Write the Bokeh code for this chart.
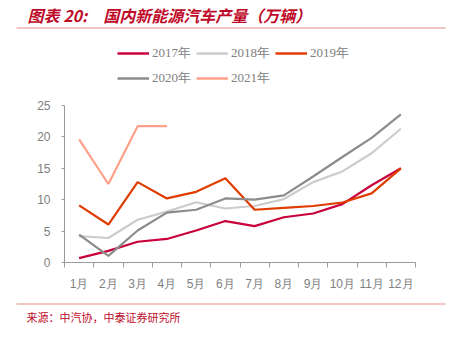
from bokeh.plotting import figure
from bokeh.layouts import column
from bokeh.models import Range1d, FixedTicker, Legend, LegendItem
from bokeh.core.properties import value
from bokeh.embed import file_html
from bokeh.resources import INLINE

months = ["1月", "2月", "3月", "4月", "5月", "6月", "7月", "8月", "9月", "10月", "11月", "12月"]
y2017 = [0.7, 1.85, 3.3, 3.75, 5.1, 6.6, 5.8, 7.2, 7.8, 9.3, 12.3, 15.0]
y2018 = [4.2, 3.9, 6.8, 8.1, 9.6, 8.6, 9.0, 10.1, 12.8, 14.5, 17.4, 21.3]
y2019 = [9.1, 6.05, 12.8, 10.2, 11.25, 13.4, 8.4, 8.7, 9.0, 9.55, 11.0, 15.0]
y2020 = [4.45, 1.05, 5.1, 7.95, 8.4, 10.2, 10.0, 10.7, 13.7, 16.8, 19.85, 23.6]
y2021 = [19.6, 12.5, 21.7, 21.7]
series_names = ["2017年", "2018年", "2019年", "2020年", "2021年"]
colors = ["#C8003C", "#CCCCCC", "#E03C00", "#8C8C8C", "#FFA08A"]
yticks = [0, 5, 10, 15, 20, 25]
title_text = "图表 20:\u3000国内新能源汽车产量（万辆）"
source_text = "来源：中汽协，中泰证券研究所"

W = 450
TOP_H, MAIN_H, BOT_H = 95, 200, 46
RED = "#BE0A28"
RULE = "#E38A8A"


def blank(h):
    # y measured downward from the top edge of this strip: y_data = h - y_px
    f = figure(width=W, height=h, output_backend="svg", toolbar_location=None,
               x_range=Range1d(0, W), y_range=Range1d(0, h),
               min_border=0, min_border_left=0, min_border_right=0,
               min_border_top=0, min_border_bottom=0, frame_align=False)
    f.axis.visible = False
    f.grid.visible = False
    f.outline_line_color = None
    f.background_fill_color = "white"
    f.border_fill_color = "white"
    return f


# ---- header: title, rule, legend
top = blank(TOP_H)
top.text(x=[27], y=[TOP_H - 14], text=[title_text], text_font=value("Noto Sans CJK SC"),
         text_font_size="16px", text_font_style="bold italic", text_color=RED,
         text_baseline="middle")
top.quad(left=[16], right=[445], bottom=[TOP_H - 28], top=[TOP_H - 27],
         fill_color=RULE, line_color=None)
dummies = [top.line(x=[-50, -40], y=[-50, -50], line_color=c, line_width=2.6) for c in colors]
order = [0, 3, 1, 4, 2]  # fill columns so rows read 2017 2018 2019 / 2020 2021
legend = Legend(items=[LegendItem(label=series_names[i], renderers=[dummies[i]]) for i in order],
                ncols=3, location=(117, 7), glyph_width=32, glyph_height=20,
                label_height=20, label_standoff=3, spacing=5, padding=0, margin=0,
                border_line_color=None, background_fill_alpha=0,
                label_text_font="Liberation Serif", label_text_font_size="13px",
                label_text_color="#808080")
top.add_layout(legend, "center")

# ---- main chart
p = figure(width=W, height=MAIN_H, output_backend="svg", toolbar_location=None,
           x_range=Range1d(0.5, 12.5), y_range=Range1d(0, 25), frame_align=False,
           min_border_left=64, min_border_right=35, min_border_top=10, min_border_bottom=33)
p.outline_line_color = None
p.grid.grid_line_color = None
p.background_fill_color = "white"
p.border_fill_color = "white"

x_all = list(range(1, 13))
for vals, c in zip([y2017, y2018, y2019, y2020, y2021], colors):
    p.line(x_all[:len(vals)], vals, line_color=c, line_width=2.2)

xa = p.xaxis[0]
xa.ticker = FixedTicker(ticks=x_all, minor_ticks=[i + 0.5 for i in range(0, 13)])
xa.major_label_overrides = {i + 1: m for i, m in enumerate(months)}
xa.major_tick_line_color = None
xa.major_tick_out = 0
xa.major_tick_in = 0
xa.minor_tick_line_color = "#999999"
xa.minor_tick_out = 5
xa.minor_tick_in = 0
xa.axis_line_color = "#999999"
xa.major_label_text_color = "#7F7F7F"
xa.major_label_text_font = "Liberation Sans"
xa.major_label_text_font_size = "12px"
xa.major_label_standoff = 9

ya = p.yaxis[0]
ya.ticker = FixedTicker(ticks=yticks)
ya.major_tick_line_color = "#999999"
ya.major_tick_out = 3
ya.major_tick_in = 0
ya.minor_tick_line_color = None
ya.axis_line_color = "#999999"
ya.major_label_text_color = "#7F7F7F"
ya.major_label_text_font = "Liberation Sans"
ya.major_label_text_font_size = "12px"
ya.major_label_standoff = 11

# ---- footer: rule and source
bot = blank(BOT_H)
bot.quad(left=[16], right=[445], bottom=[BOT_H - 9], top=[BOT_H - 8],
         fill_color=RULE, line_color=None)
bot.text(x=[26], y=[BOT_H - 21], text=[source_text], text_font=value("Noto Sans CJK SC"),
         text_font_size="11px", text_color=RED, text_baseline="middle")

layout = column(top, p, bot, spacing=0)
open("out.html", "w").write(file_html(layout, INLINE))
